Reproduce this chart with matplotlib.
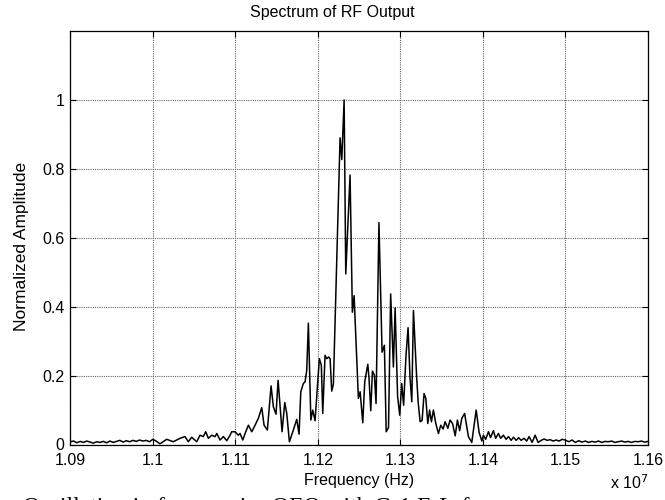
import numpy as np
import matplotlib
matplotlib.use("Agg")
import matplotlib.pyplot as plt

# Frequency (units of 1e7 Hz) and normalized amplitude
freq = [
    1.0900, 1.0904, 1.0908, 1.0912, 1.0916, 1.0920, 1.0924, 1.0928, 1.0932, 1.0936,
    1.0940, 1.0944, 1.0948, 1.0952, 1.0956, 1.0960, 1.0964, 1.0968, 1.0972, 1.0976,
    1.0980, 1.0984, 1.0988, 1.0992, 1.0996, 1.1000, 1.1004,
    1.10087, 1.10168, 1.10248, 1.1033, 1.1039, 1.1043, 1.10471, 1.10532, 1.10572, 1.10612,
    1.10641, 1.10673, 1.10714, 1.10754, 1.10775, 1.10815, 1.10855, 1.10896, 1.10936, 1.10956,
    1.10996, 1.11036, 1.11057, 1.1109, 1.11118, 1.11158, 1.11199, 1.11239, 1.11279, 1.1132,
    1.11348, 1.11388, 1.11433, 1.11461, 1.11493, 1.11518, 1.11566, 1.11599, 1.11623, 1.11655,
    1.11703, 1.11744, 1.11772, 1.11793, 1.11824, 1.11845, 1.11865, 1.11885, 1.11915, 1.11938,
    1.11966, 1.11994, 1.12018, 1.12042, 1.12059, 1.12087, 1.12108, 1.1213, 1.12148, 1.12168,
    1.12188, 1.12269, 1.1229, 1.12318, 1.12338, 1.1239, 1.12418, 1.12439, 1.12491, 1.12512,
    1.12544, 1.12568, 1.12605, 1.1262, 1.12641, 1.12661, 1.12685, 1.12705, 1.1274, 1.12778,
    1.12806, 1.12828, 1.12856, 1.12882, 1.12915, 1.12936, 1.12966, 1.12992, 1.13016, 1.13039,
    1.13068, 1.13093, 1.13116, 1.13138, 1.13158, 1.13196, 1.13215, 1.13239, 1.13263, 1.13287,
    1.13308, 1.13332, 1.13354, 1.13376, 1.1340, 1.13429, 1.13461, 1.13489, 1.13518, 1.13542,
    1.13575, 1.13602, 1.13633, 1.13664, 1.13691, 1.13718, 1.13744, 1.13778, 1.13824, 1.13865,
    1.13918, 1.13954, 1.13987, 1.14006, 1.14033, 1.14067, 1.14093, 1.14127, 1.14154, 1.14188,
    1.14215, 1.14248, 1.14281, 1.14309, 1.14342, 1.1437, 1.14403, 1.14433, 1.14463, 1.1450,
    1.1453, 1.1456, 1.14596, 1.14633, 1.14669, 1.14706, 1.14742, 1.14778, 1.14815, 1.14851,
    1.14887, 1.14924, 1.1496, 1.14996,
    1.1504, 1.1508, 1.1512, 1.1516, 1.1520, 1.1524, 1.1528, 1.1532, 1.1536, 1.1540,
    1.1544, 1.1548, 1.1552, 1.1556, 1.1560, 1.1564, 1.1568, 1.1572, 1.1576, 1.1580,
    1.1584, 1.1588, 1.1592, 1.1596, 1.1600,
]
amplitude = [
    0.008, 0.010, 0.005, 0.009, 0.006, 0.010, 0.007, 0.004, 0.008, 0.006,
    0.009, 0.005, 0.010, 0.006, 0.009, 0.012, 0.007, 0.011, 0.008, 0.012,
    0.009, 0.013, 0.010, 0.012, 0.008, 0.015, 0.010,
    0.002, 0.015, 0.008, 0.018, 0.023, 0.008, 0.021, 0.008, 0.027, 0.023,
    0.037, 0.018, 0.027, 0.023, 0.032, 0.013, 0.023, 0.011, 0.027, 0.037,
    0.037, 0.027, 0.032, 0.013, 0.032, 0.056, 0.037, 0.056, 0.076, 0.107,
    0.056, 0.042, 0.170, 0.109, 0.088, 0.186, 0.037, 0.122, 0.090, 0.008,
    0.042, 0.073, 0.030, 0.153, 0.177, 0.182, 0.215, 0.352, 0.071, 0.100,
    0.069, 0.167, 0.249, 0.230, 0.090, 0.259, 0.249, 0.254, 0.249, 0.155,
    0.175, 0.890, 0.827, 1.000, 0.495, 0.782, 0.384, 0.432, 0.134, 0.153,
    0.063, 0.182, 0.233, 0.191, 0.098, 0.213, 0.201, 0.119, 0.644, 0.268,
    0.288, 0.037, 0.049, 0.437, 0.225, 0.396, 0.140, 0.085, 0.177, 0.114,
    0.259, 0.339, 0.196, 0.124, 0.389, 0.200, 0.124, 0.066, 0.070, 0.148,
    0.134, 0.061, 0.100, 0.066, 0.100, 0.061, 0.032, 0.056, 0.045, 0.066,
    0.047, 0.071, 0.060, 0.025, 0.071, 0.040, 0.076, 0.090, 0.023, 0.006,
    0.100, 0.035, 0.010, 0.027, 0.015, 0.037, 0.020, 0.040, 0.018, 0.032,
    0.018, 0.027, 0.015, 0.023, 0.012, 0.021, 0.012, 0.020, 0.012, 0.018,
    0.010, 0.023, 0.006, 0.027, 0.006, 0.012, 0.016, 0.012, 0.014, 0.010,
    0.013, 0.010, 0.015, 0.013,
    0.008, 0.013, 0.006, 0.011, 0.007, 0.010, 0.006, 0.009, 0.007, 0.010,
    0.006, 0.009, 0.008, 0.010, 0.006, 0.008, 0.010, 0.007, 0.009, 0.006,
    0.009, 0.008, 0.010, 0.007, 0.009,
]

xticks = [1.09, 1.10, 1.11, 1.12, 1.13, 1.14, 1.15, 1.16]
xtick_labels = ["1.09", "1.1", "1.11", "1.12", "1.13", "1.14", "1.15", "1.16"]
yticks = [0, 0.2, 0.4, 0.6, 0.8, 1.0]
ytick_labels = ["0", "0.2", "0.4", "0.6", "0.8", "1"]

plt.rcParams['font.family'] = ['Liberation Sans', 'DejaVu Sans']

fig = plt.figure(figsize=(6.65, 5.0), dpi=100)
ax = fig.add_axes([0.1057, 0.111, 0.8687, 0.827])

ax.plot(freq, amplitude, color='black', linewidth=1.1)

ax.set_xlim(1.09, 1.16)
ax.set_ylim(0, 1.2)
ax.set_xticks(xticks)
ax.set_xticklabels(xtick_labels)
ax.set_yticks(yticks)
ax.set_yticklabels(ytick_labels)
ax.tick_params(direction='in', length=4, width=0.8, labelsize=11.5,
               top=True, right=True)
ax.tick_params(axis='x', pad=6)
ax.tick_params(axis='y', pad=4)
ax.grid(True, linestyle=(0, (1, 1)), color='#666666', linewidth=0.8)
for s in ax.spines.values():
    s.set_linewidth(0.9)
    s.set_color('black')

fig.text(0.5, 0.975, "Spectrum of RF Output", fontsize=11.5,
         ha='center', va='center')
ax.set_xlabel("Frequency (Hz)", fontsize=11.5, labelpad=4)
ax.set_ylabel("Normalized Amplitude", fontsize=12.5)
ax.yaxis.set_label_coords(-0.0715, 0.48)

fig.text(0.918, 0.022, r"x 10$^{7}$", fontsize=11.5, ha='left', va='baseline')

fig.text(0.035, -0.026, "Oscillation in frequencies OEO with G-1 E-L-f",
         fontsize=17, family='Liberation Serif', ha='left', va='baseline')

fig.savefig("out.png", dpi=100)
